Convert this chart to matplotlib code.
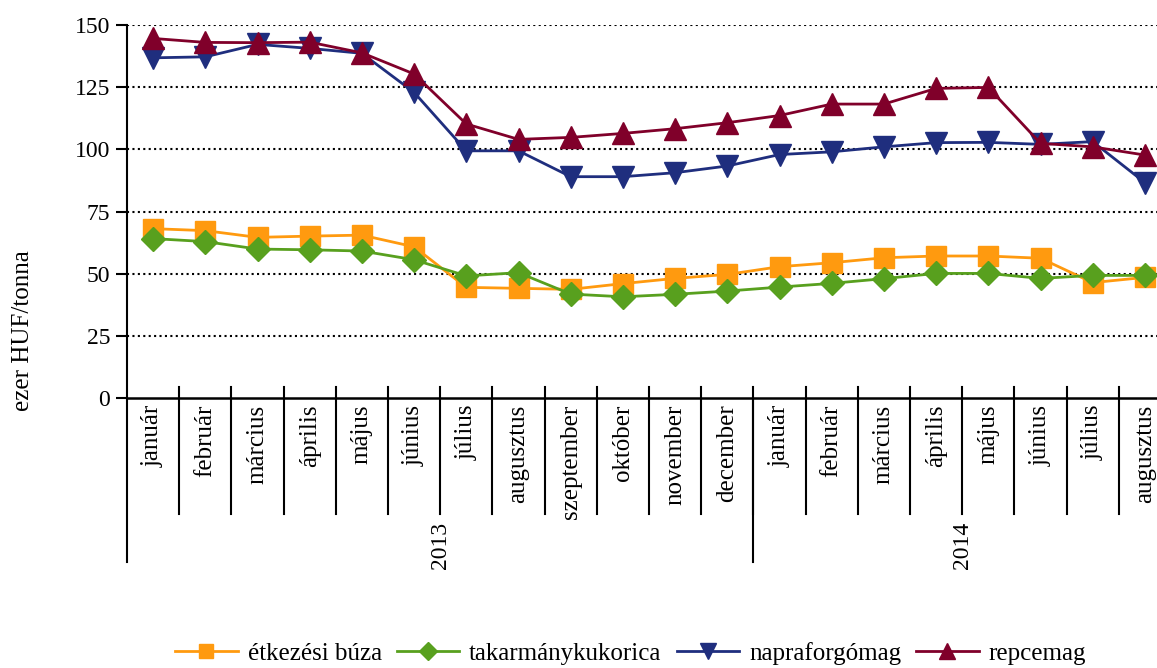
import matplotlib
matplotlib.use("Agg")
import matplotlib.pyplot as plt
import matplotlib.transforms as mtransforms

months = ["január", "február", "március", "április", "május", "június", "július",
          "augusztus", "szeptember", "október", "november", "december",
          "január", "február", "március", "április", "május", "június", "július",
          "augusztus"]
years = ["2013", "2014"]
year_counts = [12, 8]

etkezesi_buza = [68.1, 67.3, 64.6, 65.1, 65.5, 60.8, 44.5, 44.1, 43.7, 46.0, 48.1, 49.7,
                 52.8, 54.4, 56.4, 57.1, 57.1, 56.2, 46.4, 48.5]
takarmanykukorica = [64.1, 62.9, 59.9, 59.6, 59.1, 55.6, 49.1, 50.4, 41.8, 40.7, 41.7, 43.0,
                     44.6, 46.1, 48.0, 50.1, 50.1, 48.1, 49.3, 49.3]
napraforgomag = [136.8, 137.2, 142.2, 140.6, 138.6, 122.9, 99.4, 99.4, 89.0, 89.0, 90.6, 93.3,
                 97.9, 99.0, 101.0, 102.7, 102.8, 102.0, 103.1, 86.6]
repcemag = [144.6, 143.0, 142.9, 143.1, 138.8, 130.3, 110.2, 104.0, 104.8, 106.4, 108.3, 110.7,
            113.6, 118.2, 118.2, 124.5, 124.9, 102.4, 101.0, 97.7]

series = [
    ("étkezési búza", etkezesi_buza, "#FF9A0F", "s", 14),
    ("takarmánykukorica", takarmanykukorica, "#58A01E", "D", 12),
    ("napraforgómag", napraforgomag, "#1F2E7E", "v", 16),
    ("repcemag", repcemag, "#80002A", "^", 16),
]

plt.rcParams['font.family'] = ['Liberation Serif', 'DejaVu Serif']
FS = 17
FS2 = 18

fig = plt.figure(figsize=(11.57, 6.68), dpi=100)
ax = fig.add_axes([127 / 1157, (668 - 398) / 668, 1044 / 1157, 373 / 668])

x = list(range(len(months)))
handles = []
for name, vals, col, mk, ms in series:
    h, = ax.plot(x, vals, color=col, marker=mk, markersize=ms, linewidth=2.0,
                 label=name, zorder=3, clip_on=False)
    handles.append(h)

ax.set_xlim(-0.5, len(months) - 0.5)
ax.set_ylim(0, 150)
ax.set_yticks([0, 25, 50, 75, 100, 125, 150])
ax.tick_params(axis='y', labelsize=FS, length=8, width=1.5, direction='out', pad=4)
ax.set_xticks([])
for s in ['top', 'right']:
    ax.spines[s].set_visible(False)
ax.spines['left'].set_linewidth(1.5)
ax.spines['bottom'].set_linewidth(1.8)
for yv in [25, 50, 75, 100, 125, 150]:
    ax.axhline(yv, color='black', linestyle=(0, (1, 1.6)), linewidth=1.5, zorder=1)

ax.set_ylabel("ezer HUF/tonna", fontsize=FS2)
ax.yaxis.set_label_coords(-0.1, 0.18, transform=ax.transAxes)
ax.yaxis.label.set_verticalalignment('center')

trans = mtransforms.blended_transform_factory(ax.transData, ax.transAxes)
# month separators
for i in range(1, len(months)):
    ax.plot([i - 0.5, i - 0.5], [0.0295, -0.311], transform=trans, color='black',
            linewidth=1.5, clip_on=False)
# year separators
pos = -0.5
bounds = [pos]
for c in year_counts:
    pos += c
    bounds.append(pos)
for b in bounds:
    ax.plot([b, b], [0, -0.44], transform=trans, color='black', linewidth=1.5, clip_on=False)
# month labels
for i, m in enumerate(months):
    ax.text(i, -0.018, m, transform=trans, rotation=90, ha='center', va='top', fontsize=FS2)
# year labels
for k, yr in enumerate(years):
    c = (bounds[k] + bounds[k + 1]) / 2
    ax.text(c, -0.394, yr, transform=trans, rotation=90, ha='center', va='center', fontsize=FS)

fig.legend(handles=handles, loc='center', bbox_to_anchor=(0.545, 0.022), ncol=4,
           frameon=False, fontsize=FS2, handlelength=2.5, handletextpad=0.4,
           columnspacing=0.6, markerscale=0.75)

fig.savefig("out.png", dpi=100)
